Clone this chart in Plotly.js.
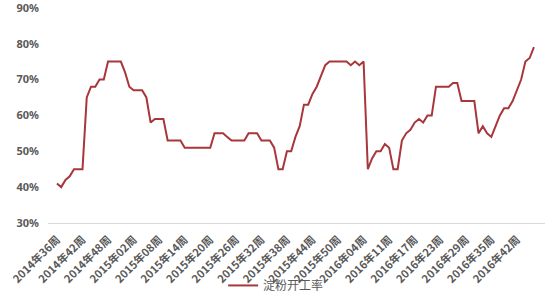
<!DOCTYPE html>
<html>
<head>
<meta charset="utf-8">
<script src="https://cdn.plot.ly/plotly-3.0.1.min.js"></script>
<style>html,body{margin:0;padding:0;background:#fff;}#chart{width:550px;height:300px;}</style>
</head>
<body>
<div id="chart"></div>
<script>
// Weekly starch operating rate (%), 2014 week 36 onward
const seriesName = "淀粉开工率";
const rate = [
  41, 40, 42, 43, 45, 45, 45, 65, 68, 68,
  70, 70, 75, 75, 75, 75, 72, 68, 67, 67,
  67, 65, 58, 59, 59, 59, 53, 53, 53, 53,
  51, 51, 51, 51, 51, 51, 51, 55, 55, 55,
  54, 53, 53, 53, 53, 55, 55, 55, 53, 53,
  53, 51, 45, 45, 50, 50, 54, 57, 63, 63,
  66, 68, 71, 74, 75, 75, 75, 75, 75, 74,
  75, 74, 75, 45, 48, 50, 50, 52, 51, 45,
  45, 53, 55, 56, 58, 59, 58, 60, 60, 68,
  68, 68, 68, 69, 69, 64, 64, 64, 64, 55,
  57, 55, 54, 57, 60, 62, 62, 64, 67, 70,
  75, 76, 79
];
const tickLabels = [
  "2014年36周","2014年42周","2014年48周","2015年02周","2015年08周",
  "2015年14周","2015年20周","2015年26周","2015年32周","2015年38周",
  "2015年44周","2015年50周","2016年04周","2016年11周","2016年17周",
  "2016年23周","2016年29周","2016年35周","2016年42周"
];
const labelEvery = 6;
const yTicks = [30, 40, 50, 60, 70, 80, 90];

const xIdx = rate.map((_, i) => i);
const tickVals = tickLabels.map((_, k) => k * labelEvery);

const trace = {
  x: xIdx,
  y: rate,
  type: "scatter",
  mode: "lines",
  name: seriesName,
  line: {color: "#A8363B", width: 2}
};

const layout = {
  width: 550,
  height: 300,
  margin: {l: 48, r: 5, t: 0, b: 71},
  paper_bgcolor: "#ffffff",
  plot_bgcolor: "#ffffff",
  showlegend: true,
  legend: {
    orientation: "h",
    x: 0.459, xanchor: "center",
    y: -0.28, yanchor: "middle",
    font: {family: "Noto Sans CJK SC, sans-serif", size: 12, color: "#595959"},
    bgcolor: "rgba(0,0,0,0)"
  },
  xaxis: {
    range: [-2.1, 114.6],
    tickmode: "array",
    tickvals: tickVals,
    ticktext: tickLabels,
    tickangle: -45,
    ticks: "",
    ticklabelstandoff: 5,
    showgrid: false,
    zeroline: false,
    showline: true,
    linecolor: "#d9d9d9",
    linewidth: 1,
    automargin: false,
    ticklabeloverflow: "allow",
    tickfont: {family: "Noto Sans CJK SC, sans-serif", size: 11, color: "#595959", weight: "bold"}
  },
  yaxis: {
    range: [30, 92.17],
    tickmode: "array",
    tickvals: yTicks,
    ticktext: yTicks.map(v => v + "%"),
    ticks: "",
    ticklabelstandoff: 8,
    ticklabeloverflow: "allow",
    showgrid: false,
    zeroline: false,
    showline: false,
    automargin: false,
    tickfont: {family: "Noto Sans, sans-serif", size: 11, color: "#595959", weight: "bold"}
  }
};

Plotly.newPlot("chart", [trace], layout, {displayModeBar: false, staticPlot: true});
</script>
</body>
</html>
